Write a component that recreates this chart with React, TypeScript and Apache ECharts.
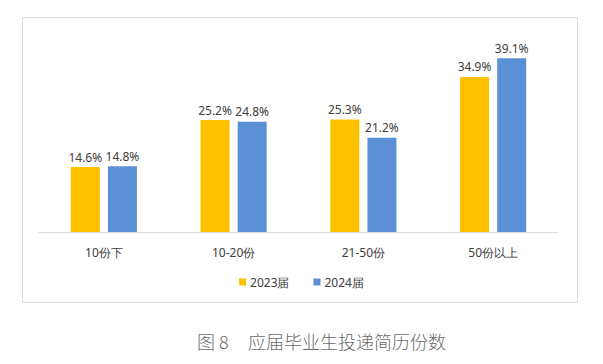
import React, { useEffect, useRef } from "react";
import * as echarts from "echarts";

const categories = ["10份下", "10-20份", "21-50份", "50份以上"];
const series2023 = [14.6, 25.2, 25.3, 34.9];
const series2024 = [14.8, 24.8, 21.2, 39.1];
const seriesNames = ["2023届", "2024届"];
const caption = ["图 8", "应届毕业生投递简历份数"];

export default function App() {
  const ref = useRef<HTMLDivElement>(null);
  useEffect(() => {
    if (!ref.current) return;
    const chart = echarts.init(ref.current, undefined, { renderer: "svg" });
    const font = '"Noto Sans", Arial, sans-serif';
    const labelStyle = {
      show: true,
      position: "top" as const,
      distance: 4,
      formatter: (p: any) => p.value.toFixed(1) + "%",
      color: "#404040",
      fontSize: 12,
      fontFamily: font,
    };
    chart.setOption({
      animation: false,
      backgroundColor: "#ffffff",
      grid: { left: 39, right: 45, top: 32, bottom: 132, containLabel: false },
      legend: {
        data: seriesNames,
        bottom: 71,
        left: "center",
        itemWidth: 7,
        itemHeight: 7,
        itemGap: 24,
        icon: "rect",
        textStyle: { color: "#404040", fontSize: 12, fontFamily: font, padding: [0, 0, 0, -1] },
      },
      xAxis: {
        type: "category",
        data: categories,
        axisLine: { lineStyle: { color: "#d9d9d9", width: 1 } },
        axisTick: { show: false },
        axisLabel: { color: "#404040", fontSize: 12, fontFamily: font, margin: 14 },
      },
      yAxis: {
        type: "value",
        min: 0,
        max: 45,
        show: false,
        splitLine: { show: false },
      },
      series: [
        {
          name: seriesNames[0],
          type: "bar",
          data: series2023,
          barWidth: 29,
          barGap: "28%",
          itemStyle: { color: "#ffc000" },
          label: labelStyle,
        },
        {
          name: seriesNames[1],
          type: "bar",
          data: series2024,
          barWidth: 29,
          itemStyle: { color: "#5b8fd6" },
          label: labelStyle,
        },
      ],
      graphic: [
        {
          type: "rect",
          shape: { x: 22.5, y: 17.5, width: 555, height: 285 },
          style: { fill: "none", stroke: "#d9d9d9", lineWidth: 1 },
          silent: true,
        },
        {
          type: "text",
          x: 197,
          y: 341,
          style: {
            text: caption[0],
            fontSize: 18,
            fontFamily: '"Noto Sans CJK SC", sans-serif',
            fontWeight: 300,
            fill: "#6a6a6a",
            verticalAlign: "middle",
          },
        },
        {
          type: "text",
          x: 248,
          y: 341,
          style: {
            text: caption[1],
            fontSize: 18,
            fontFamily: '"Noto Sans CJK SC", sans-serif',
            fontWeight: 300,
            fill: "#6a6a6a",
            verticalAlign: "middle",
          },
        },
      ],
    });
    return () => chart.dispose();
  }, []);
  return (
    <div
      ref={ref}
      style={{ position: "fixed", left: 0, top: 0, width: 603, height: 364, background: "#fff" }}
    />
  );
}
